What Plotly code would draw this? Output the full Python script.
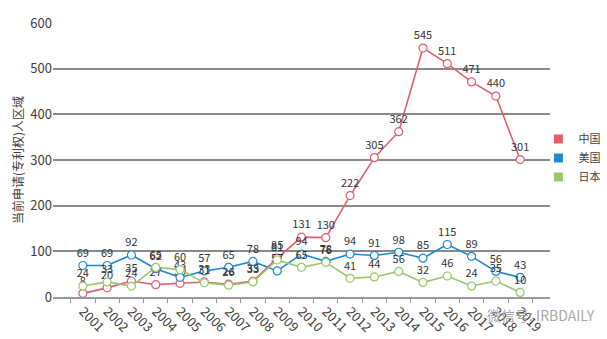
import plotly.graph_objects as go

years = [str(y) for y in range(2001, 2020)]
china = [8, 20, 35, 27, 30, 33, 28, 35, 85, 131, 130, 222, 305, 362, 545, 511, 471, 440, 301]
usa = [69, 69, 92, 62, 43, 57, 65, 78, 57, 94, 78, 94, 91, 98, 85, 115, 89, 56, 43]
japan = [24, 33, 24, 65, 60, 31, 26, 33, 81, 65, 76, 41, 44, 56, 32, 46, 24, 35, 10]
names = ["中国", "美国", "日本"]
colors = ["#E45D6E", "#1E88D2", "#98C86B"]
series = [china, usa, japan]

FONT = "Microsoft YaHei, Noto Sans CJK SC, sans-serif"

fig = go.Figure()
for name, vals, col in zip(names, series, colors):
    fig.add_trace(go.Scatter(
        x=years, y=vals, mode="lines+markers+text", name=name,
        text=[str(v) for v in vals], textposition="top center",
        textfont=dict(size=11, color="#333333", family=FONT),
        line=dict(color=col, width=1.6),
        marker=dict(symbol="circle", size=8, color="white",
                    line=dict(color=col, width=1.2)),
        showlegend=False, cliponaxis=False))
for name, col in zip(names, colors):
    fig.add_trace(go.Scatter(
        x=[None], y=[None], mode="markers", name=name,
        marker=dict(symbol="square", size=9, color=col)))

fig.update_layout(
    width=607, height=339,
    margin=dict(l=53, r=57, t=23, b=42, autoexpand=False),
    paper_bgcolor="white", plot_bgcolor="white",
    font=dict(family=FONT, color="#404040"),
    legend=dict(xref="container", yref="container", x=0.887, y=0.534,
                xanchor="left", yanchor="middle",
                font=dict(size=11, color="#404040", family=FONT),
                itemwidth=30, tracegroupgap=2, bgcolor="rgba(0,0,0,0)"),
    xaxis=dict(type="category", tickangle=45, showgrid=False, automargin=False,
               tickfont=dict(size=13, color="#404040", family=FONT),
               ticks="outside", tickson="boundaries", ticklen=4,
               tickcolor="#999999", showline=True, linecolor="#999999",
               linewidth=1.5),
    yaxis=dict(range=[0, 600], dtick=100, showgrid=True, automargin=False,
               gridcolor="#8a8a8a", gridwidth=1.5, zeroline=False,
               tickfont=dict(size=13, color="#404040", family=FONT),
               title=dict(text="当前申请(专利权)人区域", standoff=4,
                          font=dict(size=12, color="#404040", family=FONT)),
               showline=False, ticks=""),
    annotations=[dict(text="微信号: IRBDAILY", xref="paper", yref="paper",
                      x=1.094, y=-0.066, xanchor="right", yanchor="middle",
                      showarrow=False,
                      font=dict(size=14, color="#a8a8a8", family=FONT))],
)
fig.write_html("out.html")
